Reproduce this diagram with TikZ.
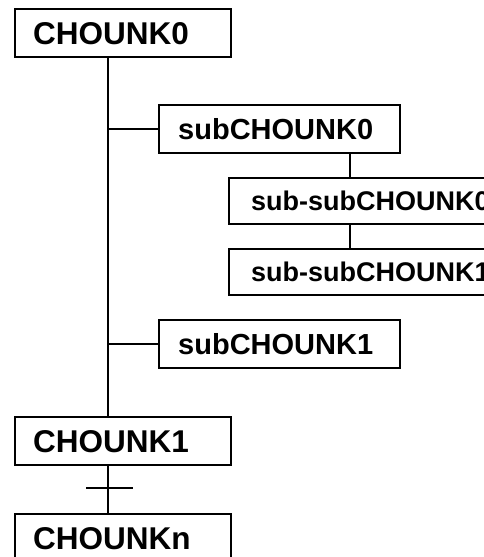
\documentclass[tikz,border=0pt]{standalone}
\usepackage{fontspec}
\setmainfont{Liberation Sans}
\begin{document}
\begin{tikzpicture}[x=1pt,y=1pt,
    chunk/.style={draw, line width=2.4pt, anchor=north west,
      minimum height=48pt, inner xsep=18pt, text width=#1, align=left,
      font=\fontsize{31.5}{36}\selectfont\bfseries},
    subchunk/.style={chunk=#1, inner xsep=19pt,
      font=\fontsize{29}{34}\selectfont\bfseries},
    subsubchunk/.style={chunk=#1, inner xsep=22pt, minimum height=46pt,
      font=\fontsize{27}{32}\selectfont\bfseries}]
  \useasboundingbox (0,0) rectangle (483,-557);
  \node[chunk=180pt] (c0) at (14,-8) {CHOUNK0};
  \node[subchunk=203pt] (s0) at (158,-104) {subCHOUNK0};
  \node[subsubchunk=270pt] (ss0) at (228,-177) {sub-subCHOUNK0};
  \node[subsubchunk=270pt] (ss1) at (228,-248) {sub-subCHOUNK1};
  \node[subchunk=203pt] (s1) at (158,-319) {subCHOUNK1};
  \node[chunk=180pt] (c1) at (14,-416) {CHOUNK1};
  \node[chunk=180pt] (cn) at (14,-513) {CHOUNKn};
  \coordinate (t0) at (86,-488);
  \coordinate (t1) at (133,-488);
  \coordinate (b0) at (350,0);
  \begin{scope}[line width=2.4pt]
    \draw (c0.south -| 108,0) -- (c1.north -| 108,0);
    \draw (s0.west -| 108,0) -- (s0.west);
    \draw (s1.west -| 108,0) -- (s1.west);
    \draw (s0.south -| b0) -- (ss0.north -| b0);
    \draw (ss0.south -| b0) -- (ss1.north -| b0);
    \draw (c1.south -| 108,0) -- (cn.north -| 108,0);
    \draw (t0) -- (t1);
  \end{scope}
\end{tikzpicture}
\end{document}
